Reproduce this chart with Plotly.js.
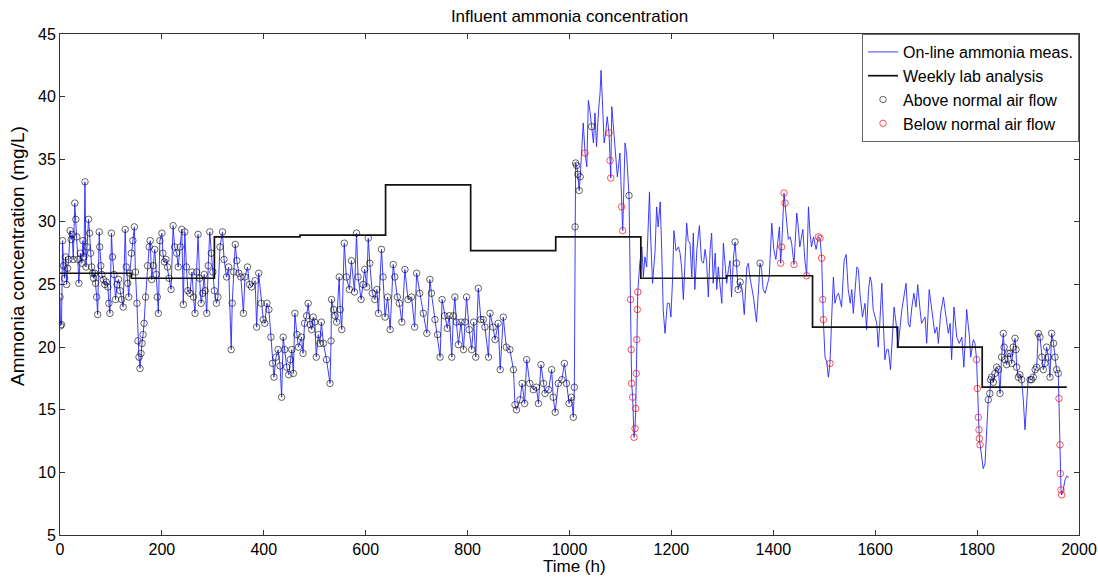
<!DOCTYPE html>
<html>
<head>
<meta charset="utf-8">
<script src="https://cdn.plot.ly/plotly-3.0.1.min.js"></script>
<style>html,body{margin:0;padding:0;background:#fff;}#chart{width:1098px;height:578px;}</style>
</head>
<body>
<div id="chart"></div>
<script>
// On-line ammonia measurement (time in h, concentration in mg/L)
const onlineHours = [
0,1,3,5,7,9,11,13,15,17,
20,22,24,26,29,31,33,35,37,40,
43,45,47,49,51,53,56,58,60,62,
64,66,68,70,72,74,77,78,80,82,
85,88,91,94,96,98,101,103,106,109,
112,115,118,121,124,128,130,133,135,137,
140,143,146,148,151,153,155,157,159,161,
163,165,168,172,175,177,180,183,186,189,
191,193,196,200,202,205,208,211,214,218,
222,225,229,232,236,239,242,245,248,251,
255,259,262,265,268,271,274,277,280,283,
285,288,291,294,297,300,303,307,310,314,
319,322,327,331,336,338,341,344,347,351,
355,360,363,368,372,376,383,386,390,395,
399,402,406,410,414,417,420,424,428,432,
435,438,441,445,449,452,455,458,461,465,
468,474,477,480,484,487,491,494,497,500,
503,507,510,513,517,523,530,532,533,537,
540,543,548,550,553,558,562,568,572,578,
582,585,591,595,598,602,605,608,613,618,
622,625,631,634,638,643,648,654,657,662,
666,671,677,683,690,696,700,706,713,720,
726,729,736,741,746,750,755,760,764,769,
772,775,778,782,787,792,795,798,803,808,
812,816,821,826,831,834,841,844,850,854,
860,864,870,876,883,890,893,896,903,907,
912,916,922,929,935,939,944,949,952,959,
965,968,972,978,985,990,994,999,1004,1007.5,
1009.5,1011,1012,1014,1016.5,1019,1021,1027,1030.5,1034,
1037,1040,1043.5,1047,1050,1053,1057,1060,1062,1064.5,
1068,1071,1074,1077.6,1079.5,1081,1083,1086,1089,1094,
1099,1102.4,1104.4,1109,1112,1116.8,1118.8,1120,1121,1122,
1124,1126.6,1128.6,1130,1131,1132,1133,1134,1138,1142,
1145,1148,1151.5,1155,1157,1159,1163,1168,1171,1174,
1178,1181,1184,1187.5,1192,1196,1199,1202,1205,1209,
1214,1217,1220,1223.5,1227,1230,1233,1236.5,1240,1243,
1246,1250,1255,1259,1263,1266,1269,1272.5,1276,1279,
1282,1286,1289,1292,1295,1299,1302,1305,1308.5,1312,
1315,1318,1322,1325,1328,1331,1335,1339,1343,1348,
1351,1354,1361,1367,1371,1374,1377,1380,1384,1388,
1392,1397,1401,1405,1408,1412,1414.4,1416.4,1421,1423,
1426,1429.5,1433,1436,1440.6,1446,1449,1452,1458,1462,
1465.5,1469,1472,1475,1479,1484,1488.4,1491.7,1494.9,1497,
1498.2,1501.5,1505,1508,1511.3,1514.6,1518,1521,1524,1528,
1531,1534,1539,1543,1547,1551,1554,1557,1564,1567,
1570,1575,1580,1583,1587,1590,1593,1596,1603,1606,
1609,1613,1616,1619,1622.5,1626,1630,1634,1637,1641,
1645,1652,1655,1660.5,1665,1668,1672,1676,1680,1683.4,
1688,1691,1698,1701,1706,1711,1714,1717,1721,1724,
1728.5,1734,1737,1743.6,1747,1750,1754.6,1760,1765,1770,
1774,1779.5,1785,1787.4,1792.6,1796,1799,1800.4,1802.4,1803.7,
1804.4,1805.7,1809,1812,1815.5,1819,1822,1825,1826.6,1828.6,
1832,1835,1838.4,1842,1845,1848,1851.5,1853,1855,1858,
1861,1864.6,1868,1871,1874.4,1876.3,1877.6,1881,1884,1887.4,
1890.7,1894,1897,1900.5,1904,1907,1910.4,1914,1917,1920,
1923.5,1927,1930,1933,1936.5,1940,1943,1946.3,1950,1953,
1956,1959.4,1960.7,1962.7,1963.4,1964.7,1966,1969,1972.5,1976,
1980
];
const onlineNH3 = [
24.0,21.7,21.8,28.5,26.5,25.5,27.2,25.0,26.3,27.0,
29.3,28.6,29.0,27.0,31.5,30.2,28.8,27.0,25.1,27.5,
26.7,28.5,27.2,33.2,26.4,28.0,30.2,29.1,27.5,26.4,
25.9,25.5,25.9,25.1,24.0,22.6,29.2,28.0,26.5,25.8,
25.4,25.0,25.2,24.8,23.5,22.7,29.1,27.2,25.8,23.8,
25.0,25.4,24.5,23.8,23.2,29.4,26.4,25.1,24.0,25.9,
27.5,28.5,29.6,26.0,23.5,20.5,19.2,18.3,19.5,20.3,
21.0,21.9,24.0,26.5,28.0,28.5,25.4,26.5,27.8,25.8,
24.0,22.7,28.5,29.1,27.5,26.8,27.0,26.4,25.5,24.6,
29.7,28.0,27.5,26.4,28.0,29.4,23.4,29.2,26.4,24.5,
24.3,26.0,24.0,22.7,26.0,29.0,25.5,23.5,24.3,25.8,
24.5,22.7,26.5,29.2,27.5,26.0,24.5,23.5,24.0,28.0,
29.2,27.0,25.6,26.4,19.8,23.5,26.0,28.2,26.9,25.9,
25.6,22.7,25.6,26.4,25.0,24.8,25.3,21.6,25.9,23.5,
22.2,21.9,23.5,23.0,20.8,18.7,17.6,19.2,19.8,18.5,
16.0,20.8,19.8,18.4,17.8,19.0,19.8,17.9,22.7,21.0,
20.0,20.8,19.5,21.9,22.5,23.5,21.8,21.4,22.4,22.0,
19.2,21.0,20.3,22.0,20.3,19.0,17.1,20.5,23.8,23.0,
22.5,22.0,25.6,23.0,21.4,28.3,25.6,24.6,26.9,24.4,
29.1,25.6,23.8,25.0,26.2,24.8,28.7,26.7,24.3,23.8,
24.6,22.7,27.8,25.6,22.4,24.0,21.4,26.6,25.6,24.0,
23.5,22.0,26.2,23.8,24.0,21.6,25.9,24.3,22.7,21.1,
25.4,24.3,22.2,21.0,19.2,23.8,22.5,21.5,22.5,19.2,
22.5,24.0,22.0,20.2,22.0,19.8,22.0,24.0,21.4,19.8,
22.0,19.2,24.7,22.2,22.2,21.6,19.2,22.7,21.6,20.6,
21.9,18.2,22.4,20.0,19.8,18.2,15.4,15.0,15.8,17.1,
15.5,19.0,17.1,16.6,16.8,15.5,18.6,17.1,16.3,16.6,
18.2,16.0,14.8,17.1,17.4,18.7,17.1,15.5,16.0,14.4,
16.8,29.6,34.7,34.5,33.8,32.5,33.6,37.9,35.5,34.4,
39.7,38.9,37.6,36.3,38.7,36.0,38.9,40.3,42.1,39.7,
36.3,37.1,38.4,37.1,34.9,33.5,39.2,37.6,35.7,33.6,
35.5,31.2,29.3,36.3,35.5,32.1,27.7,23.8,19.8,17.1,
16.0,12.8,13.5,15.1,17.9,20.6,23.0,24.4,26.7,28.0,
25.6,27.2,26.4,30.4,32.4,29.1,25.1,27.7,31.2,29.6,
31.6,27.7,22.9,21.1,23.5,23.5,22.4,25.1,29.3,27.7,
28.0,27.5,26.4,23.8,27.7,29.9,28.5,28.3,25.6,29.1,
24.6,27.8,29.7,26.9,26.7,27.8,26.9,24.0,27.8,29.1,
25.1,27.5,24.6,26.4,25.1,23.5,28.3,27.0,25.1,26.2,
26.9,24.0,27.2,28.4,26.7,24.6,25.2,24.6,22.6,26.4,
26.7,25.6,24.0,22.0,24.6,26.7,26.2,24.6,24.3,25.1,
25.6,29.9,27.8,27.0,28.3,29.6,26.7,28.0,32.3,31.5,
30.4,28.6,28.8,28.3,26.6,30.7,29.6,28.0,29.4,26.9,
25.7,31.2,29.1,28.0,28.8,27.8,28.8,28.7,27.1,23.8,
22.2,19.2,18.8,17.6,18.7,22.4,25.6,23.5,24.0,24.3,
23.8,23.2,26.9,27.4,24.6,23.5,24.6,22.7,26.4,26.2,
24.3,22.4,23.5,21.4,24.6,25.6,25.1,23.0,21.9,20.0,
21.9,25.1,21.9,19.0,19.8,19.8,18.2,20.8,23.2,21.9,
20.0,22.9,23.8,25.1,21.9,21.6,23.2,24.3,23.2,25.0,
23.0,21.9,22.4,20.3,24.6,23.0,21.6,21.1,21.6,20.3,
22.7,24.0,23.0,21.1,21.9,19.0,23.2,20.8,20.3,20.8,
18.4,23.0,20.8,19.2,20.6,20.3,19.0,16.7,14.4,13.4,
12.7,12.2,11.0,10.3,10.7,13.1,15.8,16.3,17.4,17.6,
17.2,17.9,18.4,18.2,16.3,19.2,21.1,20.0,19.0,18.6,
19.5,19.5,18.7,20.0,20.7,19.8,18.4,17.6,17.8,17.4,
15.8,13.4,15.5,17.6,17.4,17.4,17.6,18.2,18.4,21.1,
20.8,19.2,18.2,18.7,20.0,19.2,17.6,21.1,20.3,19.2,
18.2,17.9,15.9,12.2,9.9,8.6,8.2,8.6,9.4,9.7,
9.6
];

// Weekly lab analysis (step start times, values)
const labHours = [0,140,303,471,639,806,973,1140,1308,1477,1644,1810,1976];
const labNH3 =   [25.9,25.5,28.8,28.95,32.95,27.7,28.8,25.5,25.7,21.6,20.0,16.8,16.8];

// Periods (h) with above / below normal air flow
const aboveRanges = [[0,1021],[1043,1044],[1115,1117.5],[1324,1336],[1373,1375],[1822,1888],[1903,1959.5]];
const belowRanges = [[1030,1031],[1077,1082],[1102,1105],[1119.5,1134.5],[1414,1424],[1440,1441],
                     [1465,1466],[1488,1499],[1511,1512],[1798.5,1806],[1960.5,1966.5]];

// Tick labels
const xTicks = [0,200,400,600,800,1000,1200,1400,1600,1800,2000];
const yTicks = [5,10,15,20,25,30,35,40,45];

function pick(ranges){
  const xs=[], ys=[];
  for(let i=0;i<onlineHours.length;i++){
    const t=onlineHours[i];
    if(ranges.some(r=>t>=r[0]&&t<=r[1])){xs.push(t);ys.push(onlineNH3[i]);}
  }
  return [xs,ys];
}
const [aX,aY]=pick(aboveRanges);
const [bX,bY]=pick(belowRanges);

const traces=[
  {x:onlineHours,y:onlineNH3,mode:'lines',name:'On-line ammonia meas.',
   line:{color:'rgb(40,40,255)',width:0.9}},
  {x:labHours,y:labNH3,mode:'lines',name:'Weekly lab analysis',
   line:{color:'#111',width:1.7,shape:'hv'}},
  {x:aX,y:aY,mode:'markers',name:'Above normal air flow',
   marker:{symbol:'circle-open',size:6.5,color:'rgba(0,0,0,0.75)',line:{width:0.8}}},
  {x:bX,y:bY,mode:'markers',name:'Below normal air flow',
   marker:{symbol:'circle-open',size:6.5,color:'rgba(255,0,0,0.85)',line:{width:0.8}}}
];

const axisCommon={showline:true,linecolor:'#333',linewidth:1,mirror:'ticks',ticks:'inside',
  ticklen:5,tickcolor:'#333',showgrid:false,zeroline:false,tickfont:{size:16,color:'#000'}};

const layout={
  width:1098,height:578,
  margin:{l:60,r:19,t:34,b:43},
  paper_bgcolor:'#fff',plot_bgcolor:'#fff',
  font:{family:'"Liberation Sans", Arial, sans-serif',color:'#000'},
  title:{text:'Influent ammonia concentration',font:{size:17},xref:'paper',x:0.5,
         yref:'container',y:0.972,yanchor:'middle'},
  xaxis:Object.assign({},axisCommon,{range:[0,2000],tickvals:xTicks}),
  yaxis:Object.assign({},axisCommon,{range:[5,45],tickvals:yTicks}),
  annotations:[
    {text:'Time (h)',xref:'paper',yref:'paper',x:0.505,y:-0.0619,xanchor:'center',yanchor:'middle',
     showarrow:false,font:{size:17}},
    {text:'Ammonia concentration (mg/L)',xref:'paper',yref:'paper',x:-0.0412,y:0.557,
     xanchor:'center',yanchor:'middle',textangle:-90,showarrow:false,font:{size:19}}
  ],
  showlegend:true,
  legend:{x:1,xanchor:'right',y:1,yanchor:'top',bgcolor:'#fff',bordercolor:'#666',borderwidth:1,
          font:{size:16},itemwidth:30,tracegroupgap:0}
};

Plotly.newPlot('chart',traces,layout,{displayModeBar:false,staticPlot:true});
</script>
</body>
</html>
